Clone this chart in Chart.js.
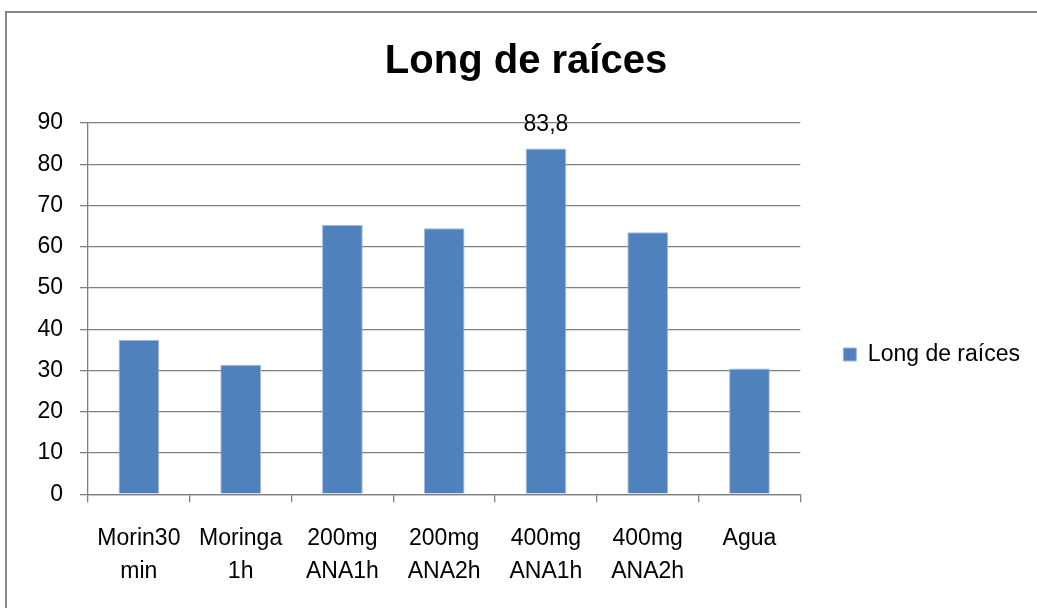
<!DOCTYPE html>
<html lang="es">
<head>
<meta charset="utf-8">
<title>Long de raíces</title>
<script src="https://cdn.jsdelivr.net/npm/chart.js@4.4.1/dist/chart.umd.min.js"></script>
<style>
  html, body { margin: 0; padding: 0; background: #fff; overflow: hidden; }
  #marco {
    position: absolute; left: 5px; top: 11px;
    width: 2000px; height: 2000px;
    border: 2px solid #878787;
  }
  #caja { position: absolute; left: 0; top: 0; width: 1037px; height: 608px; }
</style>
</head>
<body>
<div id="marco"></div>
<div id="caja"><canvas id="grafico"></canvas></div>
<script>
// Tratamientos y longitud de raíces
var categorias = [
  ['Morin30', 'min'],
  ['Moringa', '1h'],
  ['200mg', 'ANA1h'],
  ['200mg', 'ANA2h'],
  ['400mg', 'ANA1h'],
  ['400mg', 'ANA2h'],
  'Agua'
];
var longRaices = [37.4, 31.4, 65.3, 64.5, 83.8, 63.5, 30.5];
// barras que llevan su valor escrito encima
var barrasConEtiqueta = [4];
var ejeYMin = 0;
var ejeYMax = 90;
var ejeYPaso = 10;

var fuente = '"Liberation Sans", Arial, sans-serif';
var gris = '#7f7f7f';

// escribe el valor sobre las barras marcadas (formato con coma decimal)
var etiquetasValor = {
  id: 'etiquetasValor',
  afterDatasetsDraw: function (chart) {
    var ctx = chart.ctx;
    var meta = chart.getDatasetMeta(0);
    ctx.save();
    ctx.font = '23px ' + fuente;
    ctx.fillStyle = '#000';
    ctx.textAlign = 'center';
    ctx.textBaseline = 'alphabetic';
    barrasConEtiqueta.forEach(function (i) {
      var barra = meta.data[i];
      var texto = String(longRaices[i]).replace('.', ',');
      ctx.fillText(texto, barra.x, barra.y - 18);
    });
    ctx.restore();
  }
};

// baja la leyenda para centrarla con el bloque de gráfico y etiquetas
var bajarLeyenda = {
  id: 'bajarLeyenda',
  afterLayout: function (chart) {
    var leyenda = chart.legend;
    if (!leyenda) return;
    leyenda.top += 43;
    leyenda.bottom += 43;
  }
};

var ctx = document.getElementById('grafico').getContext('2d');

new Chart(ctx, {
  type: 'bar',
  data: {
    labels: categorias,
    datasets: [{
      label: 'Long de raíces',
      data: longRaices,
      backgroundColor: '#4F81BD',
      borderColor: '#9DB8DC',
      borderWidth: 1,
      barPercentage: 0.4,
      categoryPercentage: 1
    }]
  },
  options: {
    responsive: true,
    maintainAspectRatio: false,
    animation: false,
    layout: {
      padding: { left: 22, right: 7, top: 15, bottom: 0 }
    },
    scales: {
      x: {
        offset: true,
        grid: {
          offset: true,
          drawOnChartArea: false,
          drawTicks: true,
          tickLength: 8,
          color: gris,
          lineWidth: 1.3
        },
        border: { color: gris, width: 1.3 },
        ticks: {
          color: '#000',
          padding: 20,
          maxRotation: 0,
          autoSkip: false,
          font: { family: fuente, size: 23, lineHeight: 1.43 }
        }
      },
      y: {
        min: ejeYMin,
        max: ejeYMax,
        grid: {
          color: gris,
          lineWidth: 1.3,
          drawTicks: true,
          tickLength: 8
        },
        border: { color: gris, width: 1.3 },
        ticks: {
          stepSize: ejeYPaso,
          color: '#000',
          padding: 17,
          font: { family: fuente, size: 23 }
        },
        afterFit: function (scale) {
          scale.width = 66;
        }
      }
    },
    plugins: {
      title: {
        display: true,
        text: 'Long de raíces',
        color: '#000',
        font: { family: fuente, size: 40, weight: 'bold', lineHeight: 1.2 },
        padding: { top: 23, bottom: 37 }
      },
      legend: {
        position: 'right',
        labels: {
          color: '#000',
          boxWidth: 13,
          boxHeight: 13,
          padding: 43,
          font: { family: fuente, size: 23 }
        }
      },
      tooltip: { enabled: false }
    }
  },
  plugins: [etiquetasValor, bajarLeyenda]
});
</script>
</body>
</html>
